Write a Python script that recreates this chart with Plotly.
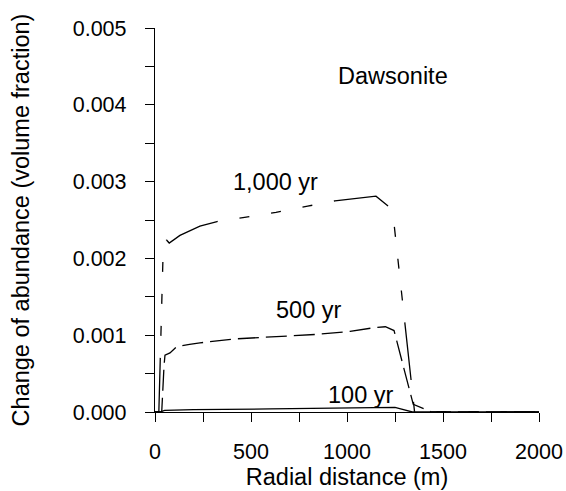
import plotly.graph_objects as go

# Radial distance (m) and change of dawsonite abundance (volume fraction)
x_100 = [0, 25, 50, 200, 600, 1000, 1250, 1340, 2000]
y_100 = [0.0, 0.0, 0.00002, 0.00003, 0.00004, 0.00005, 0.00006, 0.0, 0.0]

x_500 = [0, 35, 47, 52, 78, 113, 180, 234, 406, 661, 839, 1016, 1146, 1200, 1245, 1345, 1440, 2000]
y_500 = [0.0, 0.0, 0.0006, 0.00074, 0.00077, 0.00085, 0.00088, 0.0009, 0.00095, 0.00098, 0.00101,
         0.00105, 0.0011, 0.00111, 0.00106, 0.0001, 0.0, 0.0]

x_1000 = [0, 20, 42, 60, 74, 130, 234, 323, 458, 630, 795, 937, 1151, 1219, 1245, 1352, 2000]
y_1000 = [0.0, 0.0, 0.00205, 0.00224, 0.0022, 0.0023, 0.00242, 0.00248, 0.00253, 0.0026, 0.00268,
          0.00275, 0.00281, 0.00267, 0.00245, 0.0, 0.0]

label_text = ["1,000 yr", "500 yr", "100 yr", "Dawsonite"]
label_x = [625, 802, 1070, 1240]
label_y = [0.0030, 0.00133, 0.00022, 0.00437]

x_ticks = [0, 500, 1000, 1500, 2000]
y_ticks = [0.0, 0.001, 0.002, 0.003, 0.004, 0.005]

FONT = "Liberation Sans, Arial, sans-serif"

fig = go.Figure()
fig.add_trace(go.Scatter(x=x_100, y=y_100, mode="lines",
                         line=dict(color="black", width=1.3), showlegend=False))
fig.add_trace(go.Scatter(x=x_500, y=y_500, mode="lines",
                         line=dict(color="black", width=1.3, dash="21px,7px"), showlegend=False))
fig.add_trace(go.Scatter(x=x_1000, y=y_1000, mode="lines",
                         line=dict(color="black", width=1.3,
                                   dash="58px,22px,10px,22px,10px,22px,10px,22px"),
                         showlegend=False))

for t, xx, yy in zip(label_text, label_x, label_y):
    fig.add_annotation(x=xx, y=yy, text=t, showarrow=False,
                       font=dict(family=FONT, size=23.5, color="black"))

axis_common = dict(showline=True, linecolor="black", linewidth=1.3, ticks="outside",
                   ticklen=9, tickwidth=1.3, tickcolor="black", showgrid=False,
                   zeroline=False, mirror=False,
                   tickfont=dict(family=FONT, size=21.5, color="black"))

fig.update_xaxes(range=[0, 2000], tickvals=x_ticks, ticktext=[str(v) for v in x_ticks],
                 ticklabelstandoff=11,
                 minor=dict(dtick=250, ticklen=9, tickwidth=1.3, tickcolor="black", ticks="outside"),
                 title=dict(text="Radial distance (m)", font=dict(family=FONT, size=23.5, color="black"),
                            standoff=5),
                 **axis_common)
fig.update_yaxes(range=[0, 0.005], tickvals=y_ticks, ticktext=[f"{v:.3f}" for v in y_ticks],
                 ticklabelstandoff=14,
                 minor=dict(dtick=0.0005, ticklen=9, tickwidth=1.3, tickcolor="black", ticks="outside"),
                 title=dict(text="Change of abundance (volume fraction)",
                            font=dict(family=FONT, size=23.5, color="black"), standoff=36),
                 **axis_common)

fig.update_layout(width=566, height=491, margin=dict(l=155, r=27, t=28, b=79, autoexpand=False),
                  plot_bgcolor="white", paper_bgcolor="white", font=dict(family=FONT))

fig.write_html("out.html", config={"displayModeBar": False},
               post_script="document.body.style.margin='0';document.body.style.overflow='hidden';")
